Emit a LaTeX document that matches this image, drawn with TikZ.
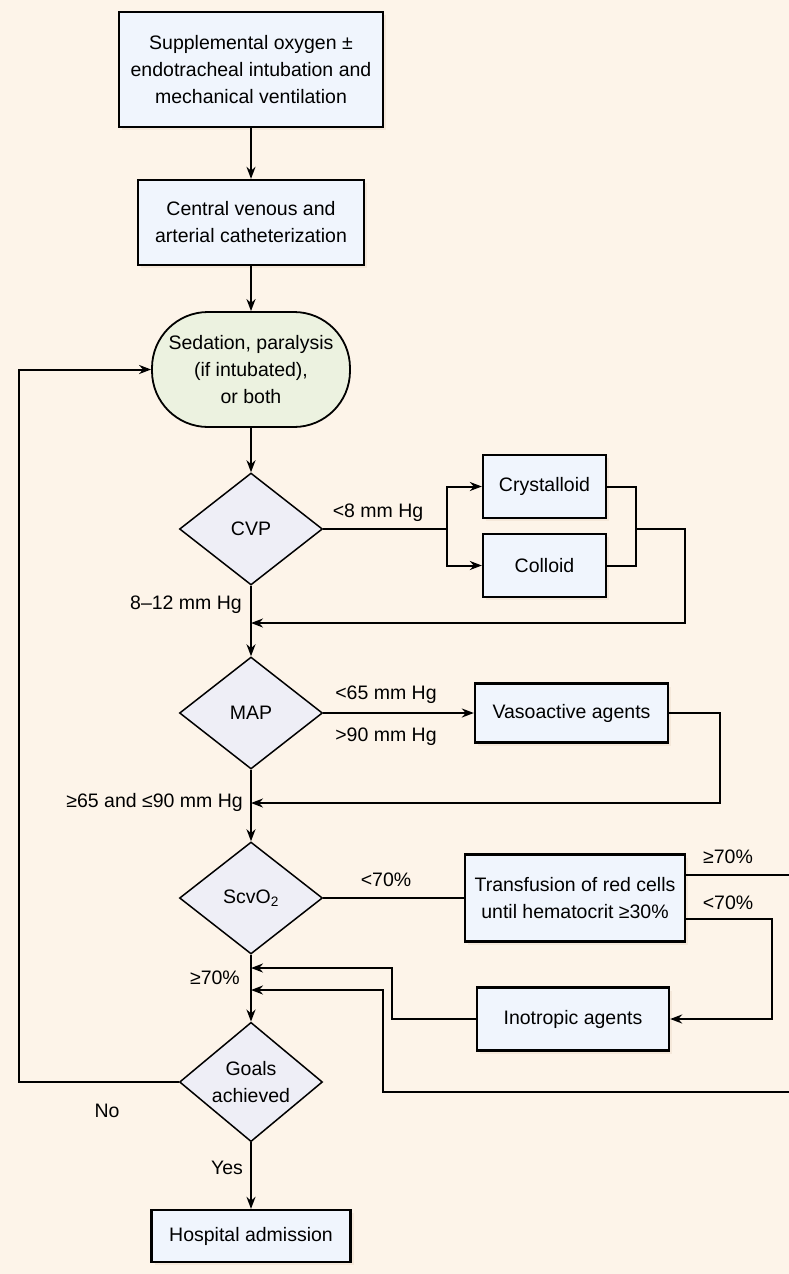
\documentclass[tikz,border=0pt]{standalone}
\usepackage{fontspec}
\setmainfont{Liberation Sans}
\usetikzlibrary{shapes.geometric,arrows.meta,shadows}
\definecolor{bgc}{RGB}{253,244,233}
\definecolor{boxc}{RGB}{240,245,253}
\definecolor{sedc}{RGB}{236,242,224}
\definecolor{decc}{RGB}{238,238,246}
\definecolor{shadc}{RGB}{238,222,205}
\begin{document}
\begin{tikzpicture}[x=1pt, y=-1pt, font=\fontsize{19.5}{27}\selectfont,
	mybox/.style={rectangle, draw=black, line width=2.3pt, fill=boxc, inner sep=0pt, align=center, drop shadow={fill=shadc, shadow xshift=3pt, shadow yshift=-3pt}},
	mysed/.style={rectangle, rounded corners=56pt, draw=black, line width=1.8pt, fill=sedc, inner sep=0pt, align=center, minimum width=198pt, minimum height=115pt},
	mydec/.style={diamond, draw=black, line width=1.5pt, fill=decc, inner sep=0pt, align=center, minimum width=143pt, minimum height=112pt},
	mylab/.style={inner sep=1pt},
	myline/.style={line width=2pt},
	myarr/.style={line width=2pt, -{Stealth[length=12pt, width=9pt]}}]
			\fill[bgc] (0,0) rectangle (789,1274);
			\useasboundingbox (0,0) rectangle (789,1274);

			\node (oxy) at (251,69.5) [mybox, minimum width=264pt, minimum height=115pt] {Supplemental oxygen ±\\endotracheal intubation and\\mechanical ventilation};
			\node (cath) at (251,222.5) [mybox, minimum width=226pt, minimum height=85pt] {Central venous and\\arterial catheterization};
			\node (sed) at (251,369.5) [mysed] {Sedation, paralysis\\(if intubated),\\or both};
			\node (cvp) at (251,529) [mydec] {CVP};
			\node (cry) at (544.5,486.5) [mybox, minimum width=123pt, minimum height=63pt] {Crystalloid};
			\node (col) at (544.5,565.5) [mybox, minimum width=123pt, minimum height=63pt] {Colloid};
			\node (map) at (251,713) [mydec] {MAP};
			\node (vas) at (571.5,713) [mybox, minimum width=193pt, minimum height=59pt] {Vasoactive agents};
			\node (scv) at (251,898) [mydec] {ScvO\textsubscript{2}};
			\node (tra) at (575,898) [mybox, minimum width=220pt, minimum height=87pt] {Transfusion of red cells\\until hematocrit ≥30\%};
			\node (ino) at (573,1019) [mybox, minimum width=192pt, minimum height=63pt] {Inotropic agents};
			\node (goal) at (251,1082) [mydec] {Goals\\achieved};
			\node (hosp) at (251,1236) [mybox, minimum width=199pt, minimum height=52pt] {Hospital admission};

			\node (l8) at (378,513) [mylab] {<8 mm Hg};
			\node (l812) at (243,605) [mylab, anchor=east] {8–12 mm Hg};
			\node (l65) at (386,695) [mylab] {<65 mm Hg};
			\node (l90) at (386,737) [mylab] {>90 mm Hg};
			\node (l6590) at (244,802) [mylab, anchor=east] {≥65 and ≤90 mm Hg};
			\node (l70a) at (386,880) [mylab] {<70\%};
			\node (l70b) at (728,857) [mylab] {≥70\%};
			\node (l70c) at (728,903) [mylab] {<70\%};
			\node (l70d) at (241,978) [mylab, anchor=east] {≥70\%};
			\node (lno) at (107,1111) [mylab] {No};
			\node (lyes) at (227,1168) [mylab] {Yes};

			\coordinate (cvpb) at (447,529);
			\coordinate (cvpj) at (636,529);
			\coordinate (cvpr) at (685,529);
			\coordinate (cvpin) at (251,623);
			\coordinate (mapr) at (720,713);
			\coordinate (mapin) at (251,803);
			\coordinate (trhi) at (789,875);
			\coordinate (trlo) at (772,919);
			\coordinate (inol) at (392,1019);
			\coordinate (inoin) at (251,968);
			\coordinate (lowr) at (789,1092);
			\coordinate (lowl) at (383,1092);
			\coordinate (lowin) at (251,990);
			\coordinate (noc) at (19,1082);

			\draw[myarr] (oxy)--(cath);
			\draw[myarr] (cath)--(sed);
			\draw[myarr] (sed)--(cvp);
			\draw[myarr] (cvp)--(map);
			\draw[myarr] (map)--(scv);
			\draw[myarr] (scv)--(goal);
			\draw[myarr] (goal)--(hosp);

			\draw[myline] (cvp)--(cvpb);
			\draw[myarr] (cvpb)|-(cry);
			\draw[myarr] (cvpb)|-(col);
			\draw[myline] (cry.east)-|(cvpj);
			\draw[myline] (col.east)-|(cvpj);
			\draw[myarr] (cvpj)--(cvpr)|-(cvpin);

			\draw[myarr] (map)--(vas);
			\draw[myarr] (vas)--(mapr)|-(mapin);

			\draw[myline] (scv)--(tra);
			\draw[myline] (tra.east|-trhi)--(trhi);
			\draw[myarr] (tra.east|-trlo)--(trlo)|-(ino);
			\draw[myarr] (ino)--(inol)|-(inoin);
			\draw[myarr] (lowr)--(lowl)|-(lowin);

			\draw[myarr] (goal)--(noc)|-(sed);
		\end{tikzpicture}
\end{document}
